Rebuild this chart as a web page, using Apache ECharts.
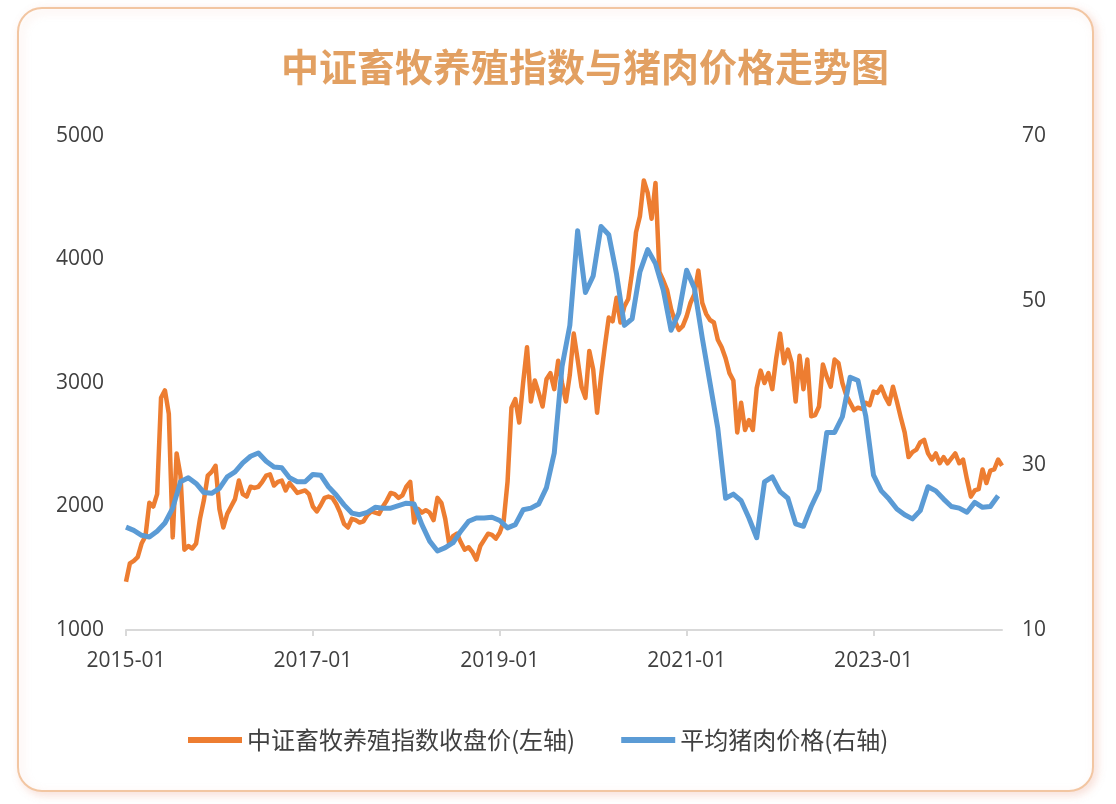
<!DOCTYPE html>
<html>
<head>
<meta charset="utf-8">
<script src="https://cdn.jsdelivr.net/npm/echarts@6/dist/echarts.min.js"></script>
<style>
html,body{margin:0;padding:0;background:#fff;}
#c{width:1116px;height:804px;}
</style>
</head>
<body>
<div id="c"></div>
<script>
// X tick labels (every 24 months starting 2015-01)
const xTickLabels = ['2015-01','2017-01','2019-01','2021-01','2023-01'];
const seriesNames = ['中证畜牧养殖指数收盘价(左轴)', '平均猪肉价格(右轴)'];
// 中证畜牧养殖指数收盘价: semi-monthly from 2015-01 (step = half a month)
const indexClose = [
1390,1540,1560,1590,1700,1760,2030,2000,2100,2880,
2940,2750,1750,2430,2250,1650,1680,1660,1700,1900,
2050,2250,2280,2330,1980,1830,1940,2000,2060,2210,
2100,2080,2160,2150,2160,2200,2250,2260,2170,2200,
2210,2130,2190,2150,2110,2120,2130,2100,2000,1960,
2010,2070,2080,2070,2020,1950,1860,1830,1900,1890,
1870,1880,1930,1960,1950,1940,2000,2050,2110,2100,
2070,2090,2160,2200,1870,1980,1950,1970,1950,1890,
2070,2030,1900,1700,1760,1780,1710,1650,1670,1630,
1570,1680,1730,1780,1770,1740,1790,1880,2200,2800,
2870,2680,3000,3290,2850,3020,2920,2810,3030,3080,
2950,3180,3000,2850,3070,3400,3190,2970,2880,3260,
3110,2760,3050,3300,3530,3500,3690,3490,3620,3680,
3900,4220,4350,4640,4540,4330,4620,3900,3830,3750,
3600,3500,3430,3460,3540,3650,3720,3910,3650,3560,
3510,3490,3350,3290,3200,3080,3020,2600,2840,2620,
2700,2620,2960,3100,3000,3080,2950,3200,3400,3160,
3270,3160,2850,3220,2950,3190,2730,2740,2810,3150,
3050,2970,3190,3160,3000,2900,2840,2780,2800,2790,
2840,2820,2930,2920,2970,2890,2830,2970,2850,2720,
2600,2400,2440,2460,2520,2540,2430,2380,2430,2350,
2400,2350,2390,2430,2350,2380,2220,2080,2130,2140,
2300,2190,2290,2300,2380,2330
];
// 平均猪肉价格: monthly from 2015-01
const porkPrice = [
22.5,22.1,21.5,21.3,22.0,23.0,24.8,28.0,28.5,27.8,
26.7,26.6,27.2,28.6,29.2,30.3,31.1,31.5,30.5,29.8,
29.7,28.5,28.0,28.0,28.9,28.8,27.4,26.4,25.2,24.2,
24.0,24.3,24.9,24.8,24.8,25.1,25.4,25.3,22.8,20.8,
19.6,20.0,20.6,22.0,23.2,23.6,23.6,23.7,23.3,22.4,
22.8,24.6,24.8,25.3,27.3,31.5,42.0,47.0,58.5,51.0,
53.0,59.0,58.0,53.2,47.0,47.8,53.5,56.2,54.5,51.3,
46.4,48.5,53.7,51.5,45.5,40.0,34.5,26.0,26.5,25.7,
23.6,21.2,28.0,28.6,26.8,26.0,22.9,22.6,25.0,27.0,
34.0,34.0,35.9,40.7,40.3,36.0,28.8,26.9,25.9,24.7,
24.0,23.5,24.5,27.4,26.9,25.9,25.0,24.8,24.3,25.5,
24.9,25.0,26.3
];

const chart = echarts.init(document.getElementById('c'), null, {renderer:'canvas'});
const axisText = {color:'#404040', fontSize:21, fontFamily:'Open Sans, Noto Sans CJK SC, sans-serif'};
const plain = function(v){return String(v);};
chart.setOption({
  animation:false,
  backgroundColor:'#ffffff',
  graphic:[{
    type:'rect', z:-10, silent:true,
    shape:{x:18,y:8,width:1075,height:783,r:24},
    style:{fill:'#ffffff',stroke:'#F2C6A2',lineWidth:2,
      shadowBlur:8,shadowColor:'rgba(235,170,150,0.35)',shadowOffsetX:3,shadowOffsetY:3}
  }],
  title:{
    text:'中证畜牧养殖指数与猪肉价格走势图',
    left:580, top:43, textAlign:'center',
    textStyle:{color:'#E2A062',fontSize:38,fontWeight:'bold',fontFamily:'Noto Sans CJK SC, sans-serif'}
  },
  legend:{
    left:183, top:723,
    icon:'rect', itemWidth:54, itemHeight:6, itemGap:46,
    textStyle:{color:'#404040',fontSize:24,fontFamily:'Noto Sans CJK SC, sans-serif'},
    data:seriesNames
  },
  grid:{left:126,right:114,top:136,bottom:174,containLabel:false},
  xAxis:{
    type:'value', min:0, max:112.5, interval:24,
    axisLine:{show:true,lineStyle:{color:'#d9d9d9',width:2}},
    axisTick:{show:true,length:6,lineStyle:{color:'#d9d9d9',width:2},customValues:[0,24,48,72,96]},
    axisLabel:Object.assign({margin:21,customValues:[0,24,48,72,96],
      formatter:function(v){const i=Math.round(v/24);return (v%24===0 && xTickLabels[i])?xTickLabels[i]:'';}},axisText),
    splitLine:{show:false}
  },
  yAxis:[{
    type:'value', min:1000, max:5000, interval:1000, position:'left',
    axisLine:{show:false}, axisTick:{show:false}, splitLine:{show:false},
    axisLabel:Object.assign({margin:22,formatter:plain},axisText)
  },{
    type:'value', min:10, max:70, interval:20, position:'right',
    axisLine:{show:false}, axisTick:{show:false}, splitLine:{show:false},
    axisLabel:Object.assign({margin:20,formatter:plain},axisText)
  }],
  series:[{
    name:seriesNames[0], type:'line', yAxisIndex:0, showSymbol:false, symbol:'none',
    color:'#ED7D31', lineStyle:{width:4.5,color:'#ED7D31',join:'round'},
    data:indexClose.map(function(v,i){return [i/2,v];})
  },{
    name:seriesNames[1], type:'line', yAxisIndex:1, showSymbol:false, symbol:'none',
    color:'#5B9BD5', lineStyle:{width:5,color:'#5B9BD5',join:'round'},
    data:porkPrice.map(function(v,i){return [i,v];})
  }]
});
</script>
</body>
</html>
